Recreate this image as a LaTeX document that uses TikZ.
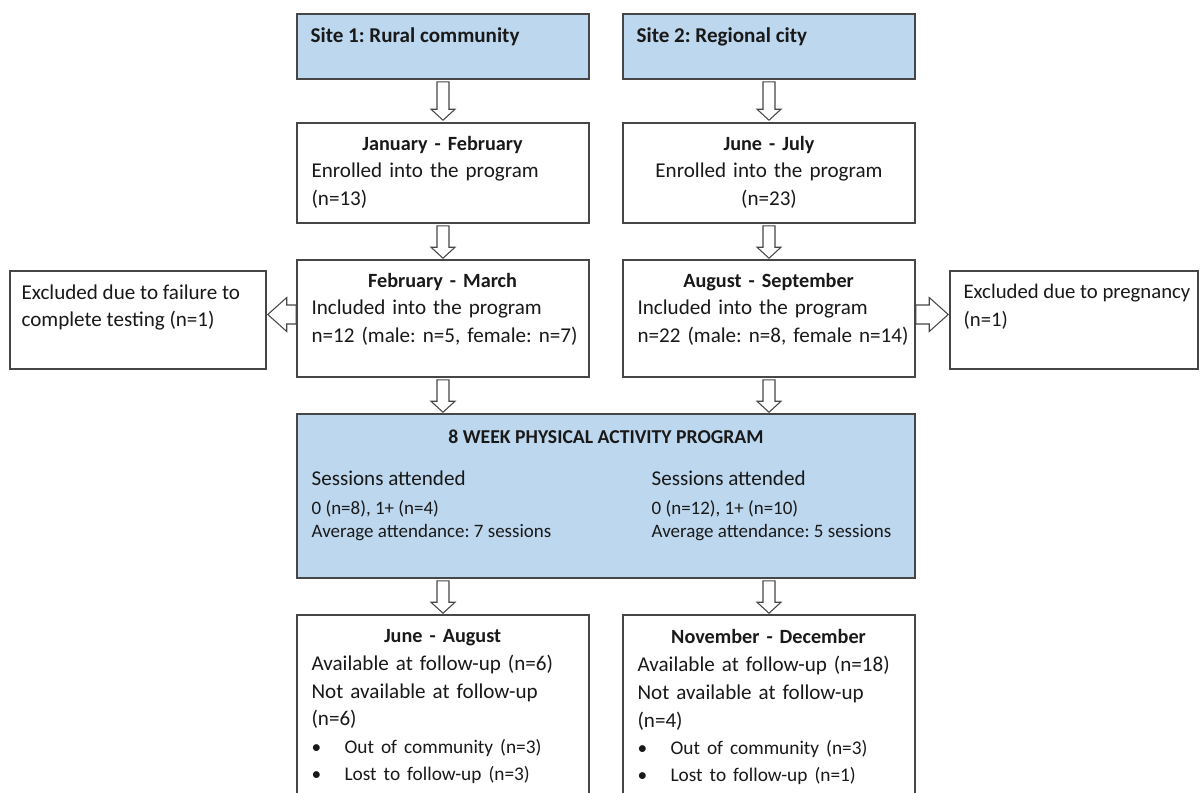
\documentclass[tikz,border=0pt]{standalone}
\usepackage{fontspec}
\setmainfont{Carlito}
\usetikzlibrary{calc}
\frenchspacing

\definecolor{siteblue}{RGB}{189,215,238}
\definecolor{edgegray}{RGB}{70,70,70}

% hollow block arrow: shaft half width, head half width, head length, from, to
\newcommand{\hollowarrow}[5]{%
  \coordinate (ha) at (#4);
  \coordinate (hb) at (#5);
  \coordinate (hh) at ($(hb)!#3!(ha)$);
  \draw[hollow] ($(ha)!#1!90:(hb)$) -- ($(hh)!#1!-90:(ha)$) -- ($(hh)!#2!-90:(ha)$) -- (hb)
    -- ($(hh)!#2!90:(ha)$) -- ($(hh)!#1!90:(ha)$) -- ($(ha)!#1!-90:(hb)$) -- cycle;}
\newcommand{\bul}{\makebox[0.66cm][l]{\textbullet}}
\newcommand{\boxtitle}[1]{\makebox[5.24cm][c]{\fontsize{11.5}{15.5}\selectfont\bfseries #1}}

\begin{document}
\begin{tikzpicture}[x=0.02cm, y=-0.02cm,
  box/.style={draw=edgegray, line width=0.9pt, fill=white, inner sep=0pt, minimum width=5.84cm},
  bluebox/.style={box, fill=siteblue},
  txt/.style={inner sep=0pt, text=black!90, font=\fontsize{12}{15.5}\selectfont},
  colbox/.style={txt, text width=5.6cm, align=left},
  hollow/.style={draw=edgegray, line width=0.6pt, fill=white}]
\useasboundingbox (0,0) rectangle (1200,792);

% boxes
\node[bluebox, minimum height=1.3cm] (site1) at (443,46.5) {};
\node[bluebox, minimum height=1.3cm] (site2) at (769,46.5) {};
\node[box, minimum height=2cm] (jan) at (443,173) {};
\node[box, minimum height=2cm] (june) at (769,173) {};
\node[box, minimum height=2.34cm] (feb) at (443,318.5) {};
\node[box, minimum height=2.34cm] (aug) at (769,318.5) {};
\node[box, minimum width=5.12cm, minimum height=1.96cm] (excl1) at (138,320) {};
\node[box, minimum width=4.96cm, minimum height=1.96cm] (excl2) at (1074,320) {};
\node[bluebox, minimum width=12.36cm, minimum height=3.28cm] (prog) at (606,496) {};
\node[box, minimum height=3.7cm] (followL) at (443,707.5) {};
\node[box, minimum height=3.7cm] (followR) at (769,707.5) {};

% texts
\node[txt, anchor=north west, font=\fontsize{12}{15.5}\selectfont\bfseries] (site1txt)
  at ($(site1.north west)+(14,14)$) {Site 1: Rural community};
\node[txt, anchor=north west, font=\fontsize{12}{15.5}\selectfont\bfseries] (site2txt)
  at ($(site2.north west)+(14,14)$) {Site 2: Regional city};
\node[colbox, anchor=north west] (jantxt) at ($(jan.north west)+(15,14)$)
  {\boxtitle{January - February}\\Enrolled into the program\\(n=13)};
\node[colbox, anchor=north, text width=5.24cm, align=center] (junetxt) at ($(june.north)+(0,14)$)
  {\boxtitle{June - July}\\Enrolled into the program\\(n=23)};
\node[colbox, anchor=north west] (febtxt) at ($(feb.north west)+(15,14)$)
  {\boxtitle{February - March}\\Included into the program\\n=12 (male: n=5, female: n=7)};
\node[colbox, anchor=north west] (augtxt) at ($(aug.north west)+(15,14)$)
  {\boxtitle{August - September}\\Included into the program\\n=22 (male: n=8, female n=14)};
\node[txt, anchor=north west, align=left] (excl1txt) at ($(excl1.north west)+(12,14)$)
  {Excluded due to failure to\\complete testing (n=1)};
\node[txt, anchor=north west, align=left, font=\fontsize{11.8}{15.5}\selectfont] (excl2txt)
  at ($(excl2.north west)+(14,14)$) {Excluded due to pregnancy\\(n=1)};
\node[txt, anchor=north, font=\fontsize{11.2}{15.5}\selectfont\bfseries] (progtitle)
  at ($(prog.north)+(0,16)$) {8 WEEK PHYSICAL ACTIVITY PROGRAM};
\node[txt, anchor=north west, align=left, font=\fontsize{10.8}{13.2}\selectfont] (progleft)
  at ($(prog.north west)+(15,57)$)
  {{\fontsize{12}{14}\selectfont Sessions attended}\\[3.4pt]0 (n=8), 1+ (n=4)\\Average attendance: 7 sessions};
\node[txt, anchor=north west, align=left, font=\fontsize{10.8}{13.2}\selectfont] (progright)
  at ($(prog.north west)+(355,57)$)
  {{\fontsize{12}{14}\selectfont Sessions attended}\\[3.4pt]0 (n=12), 1+ (n=10)\\Average attendance: 5 sessions};
\node[colbox, anchor=north west, font=\fontsize{12}{15.8}\selectfont] (followLtxt) at ($(followL.north west)+(15,15)$)
  {\boxtitle{June - August}\\Available at follow-up (n=6)\\Not available at follow-up\\(n=6)\par
   {\fontsize{11}{15.6}\selectfont\bul Out of community (n=3)\\\bul Lost to follow-up (n=3)\par}};
\node[colbox, anchor=north west, font=\fontsize{12}{15.8}\selectfont] (followRtxt) at ($(followR.north west)+(15,15)$)
  {\boxtitle{November - December}\\Available at follow-up (n=18)\\Not available at follow-up\\(n=4)\par
   {\fontsize{11}{15.6}\selectfont\bul Out of community (n=3)\\\bul Lost to follow-up (n=1)\par}};

% arrows
\hollowarrow{0.12cm}{0.24cm}{0.22cm}{$(site1.south)+(0,2)$}{$(jan.north)+(0,-2)$}
\hollowarrow{0.12cm}{0.24cm}{0.22cm}{$(site2.south)+(0,2)$}{$(june.north)+(0,-2)$}
\hollowarrow{0.12cm}{0.24cm}{0.22cm}{$(jan.south)+(0,2)$}{$(feb.north)+(0,-1)$}
\hollowarrow{0.12cm}{0.24cm}{0.22cm}{$(june.south)+(0,2)$}{$(aug.north)+(0,-1)$}
\hollowarrow{0.12cm}{0.24cm}{0.22cm}{$(feb.south)+(0,2)$}{$(feb.south |- prog.north)+(0,-1)$}
\hollowarrow{0.12cm}{0.24cm}{0.22cm}{$(aug.south)+(0,2)$}{$(aug.south |- prog.north)+(0,-1)$}
\hollowarrow{0.12cm}{0.24cm}{0.22cm}{$(followL.north |- prog.south)+(0,2)$}{$(followL.north)+(0,-1)$}
\hollowarrow{0.12cm}{0.24cm}{0.22cm}{$(followR.north |- prog.south)+(0,2)$}{$(followR.north)+(0,-1)$}
\hollowarrow{0.19cm}{0.34cm}{0.38cm}{$(feb.west)+(0,-4)$}{$(feb.west -| excl1.east)+(1,-4)$}
\hollowarrow{0.19cm}{0.34cm}{0.38cm}{$(aug.east)+(0,-4)$}{$(aug.east -| excl2.west)+(-1,-4)$}
\end{tikzpicture}
\end{document}
